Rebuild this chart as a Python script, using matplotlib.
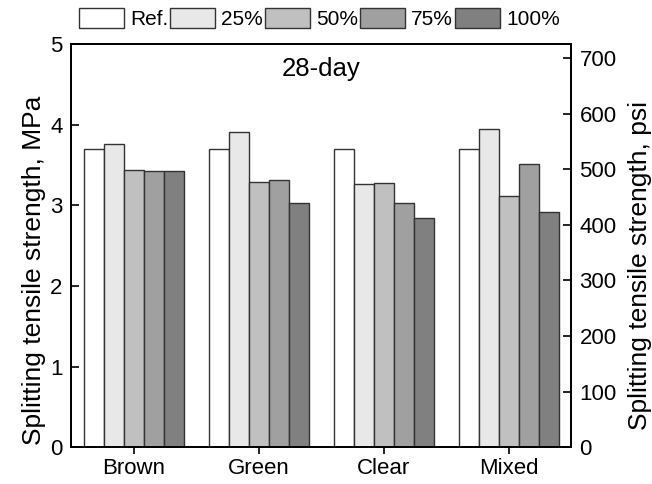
import matplotlib.pyplot as plt
import numpy as np

plt.rcParams['font.family'] = ['Liberation Sans', 'DejaVu Sans']

groups = ['Brown', 'Green', 'Clear', 'Mixed']
series = ['Ref.', '25%', '50%', '75%', '100%']
ref = [3.70, 3.70, 3.70, 3.70]
p25 = [3.76, 3.91, 3.27, 3.95]
p50 = [3.44, 3.29, 3.28, 3.11]
p75 = [3.42, 3.32, 3.03, 3.51]
p100 = [3.43, 3.03, 2.84, 2.92]
colors = ['#ffffff', '#e8e8e8', '#c0c0c0', '#a0a0a0', '#808080']

fig = plt.figure(figsize=(6.52, 4.84), dpi=100)
ax = fig.add_axes([0.109, 0.076, 0.767, 0.833])

x = np.arange(len(groups))
w = 0.16
handles = []
for i, vals in enumerate([ref, p25, p50, p75, p100]):
    b = ax.bar(x + (i - 2) * w, vals, w, color=colors[i], edgecolor='#333333',
               linewidth=1.0, label=series[i])
    handles.append(b)

ax.set_xlim(-0.5, 3.5)
ax.set_ylim(0, 5)
ax.set_xticks(x)
ax.set_xticklabels(groups)
ax.set_yticks(range(6))
ax.tick_params(axis='y', direction='in', length=6, width=1.2, labelsize=16, pad=6)
ax.tick_params(axis='x', direction='out', length=5, width=1.2, labelsize=16, pad=3)
ax.set_ylabel('Splitting tensile strength, MPa', fontsize=19)
ax.yaxis.set_label_coords(-0.05, 0.44)
for sp in ax.spines.values():
    sp.set_linewidth(1.3)

ax2 = ax.twinx()
ax2.set_ylim(0, 5 * 145.04)
ax2.set_yticks(range(0, 701, 100))
ax2.tick_params(axis='y', direction='in', length=6, width=1.2, labelsize=16, pad=6)
ax2.set_ylabel('Splitting tensile strength, psi', fontsize=19)
ax2.yaxis.set_label_coords(1.113, 0.45)
for sp in ax2.spines.values():
    sp.set_linewidth(1.3)

ax.text(0.5, 0.938, '28-day', transform=ax.transAxes, ha='center', va='center',
        fontsize=18.5)

fig.legend(handles, series, loc='center left', bbox_to_anchor=(0.121, 0.961),
           ncol=5, frameon=False, fontsize=15, handlelength=2.15,
           handleheight=1.05, handletextpad=0.3, columnspacing=0.1,
           borderaxespad=0.0, borderpad=0.0)

fig.savefig('out.png', dpi=100)
